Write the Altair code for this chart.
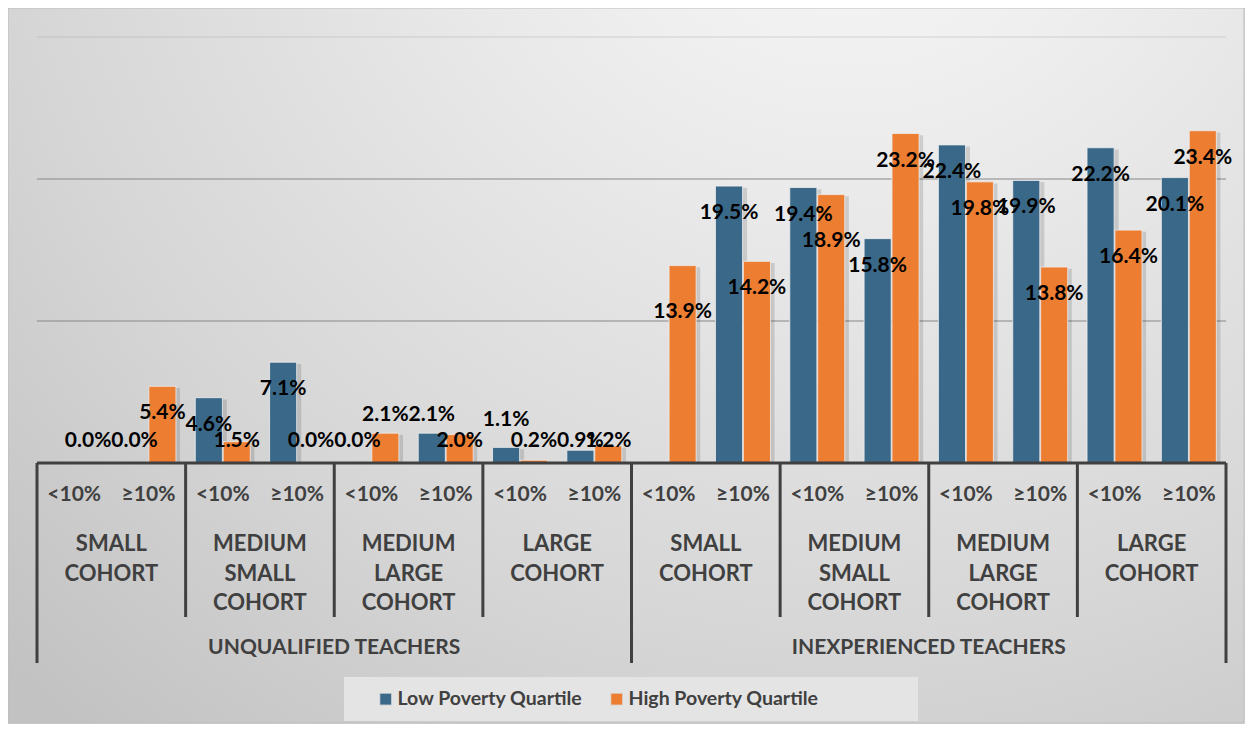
import altair as alt
import pandas as pd

# ---------------- data ----------------
teacher_types = ["UNQUALIFIED TEACHERS", "INEXPERIENCED TEACHERS"]
cohorts = ["SMALL\nCOHORT", "MEDIUM\nSMALL\nCOHORT", "MEDIUM\nLARGE\nCOHORT", "LARGE\nCOHORT"]
levels = ["<10%", "≥10%"]
series_names = ["Low Poverty Quartile", "High Poverty Quartile"]
low_poverty = [None, 0.0, 4.6, 7.1, 0.0, 2.1, 1.1, 0.9,
               None, 19.5, 19.4, 15.8, 22.4, 19.9, 22.2, 20.1]
high_poverty = [0.0, 5.4, 1.5, 0.0, 2.1, 2.0, 0.2, 1.2,
                13.9, 14.2, 18.9, 23.2, 19.8, 13.8, 16.4, 23.4]
grid_values = [10, 20, 30]

# ---------------- tables built from the arrays ----------------
cats, level_rows, cohort_rows, type_rows = [], [], [], []
k = 0
for ti, t in enumerate(teacher_types):
    type_rows.append({"pos": ti * 8 + 4, "label": t})
    for ci, c in enumerate(cohorts):
        cohort_rows.append({"pos": ti * 8 + ci * 2 + 1, "label": c})
        for li, l in enumerate(levels):
            cid = f"{ti}-{ci}-{li}"
            cats.append(cid)
            level_rows.append({"pos": k + 0.5, "label": l})
            k += 1

bar_rows = []
for i, cid in enumerate(cats):
    bar_rows.append({"cat": cid, "idx": i, "s": 0, "series": series_names[0], "value": low_poverty[i]})
    bar_rows.append({"cat": cid, "idx": i, "s": 1, "series": series_names[1], "value": high_poverty[i]})
bars_df = pd.DataFrame(bar_rows)

n = len(cats)
short_bounds = pd.DataFrame({"b": [p for p in range(0, n + 1, 2) if p % 8 != 0]})
long_bounds = pd.DataFrame({"b": [p for p in range(0, n + 1, 8)]})
grid_df = pd.DataFrame({"g": grid_values})

# ---------------- layout ----------------
W, H = 1189, 426
PAD = {"left": 29, "top": 29, "right": 19, "bottom": 261}
FONT = "Lato"
BLUE = "#3a6888"
ORANGE = "#ed7d31"
AXIS_C = "#404040"
P_IN = 0.26

yscale = alt.Scale(domain=[0, 30], nice=False, zero=True)
xband = alt.Scale(paddingInner=P_IN, paddingOuter=P_IN / 2)
xoff = alt.Scale(paddingInner=0.03)
xq = alt.Scale(domain=[0, n], nice=False, zero=False)

gradient = {
    "gradient": "radial",
    "x1": 0.68, "y1": 0.04, "r1": 0.0,
    "x2": 0.68, "y2": 0.04, "r2": 0.98,
    "stops": [
        {"offset": 0.0, "color": "#fbfbfb"},
        {"offset": 0.35, "color": "#e9e9e9"},
        {"offset": 0.7, "color": "#d6d6d6"},
        {"offset": 1.0, "color": "#c2c2c2"},
    ],
}

one = pd.DataFrame({"k": [0]})

background = alt.Chart(one).mark_rect(fill=gradient, stroke="#bdbdbd", strokeWidth=1).encode(
    x=alt.value(-PAD["left"]), x2=alt.value(W + PAD["right"] - 1),
    y=alt.value(-PAD["top"]), y2=alt.value(H + PAD["bottom"] - 1),
)

grid = alt.Chart(grid_df).mark_rule(color="#8c8c8c", strokeWidth=1.5).encode(
    y=alt.Y("g:Q", scale=yscale, axis=None),
    strokeOpacity=alt.condition("datum.g >= 30", alt.value(0.2), alt.value(0.7)),
)

# soft drop shadow to the right of each bar (same data, slightly shifted)
half = (1 - P_IN) / 2
shadow = alt.Chart(bars_df).transform_filter(
    "isValid(datum.value) && datum.value > 0"
).transform_calculate(
    x0=f"datum.idx + 0.5 + (datum.s == 0 ? -{half} : 0) + 0.055",
    x1=f"datum.idx + 0.5 + (datum.s == 0 ? 0 : {half}) + 0.055",
    top="datum.value - 0.12",
    zero="0",
).mark_rect(color="#000000", opacity=0.13).encode(
    x=alt.X("x0:Q", scale=xq, axis=None), x2="x1:Q",
    y=alt.Y("top:Q", scale=yscale, axis=None), y2="zero:Q",
)

color = alt.Color(
    "series:N",
    scale=alt.Scale(domain=series_names, range=[BLUE, ORANGE]),
    legend=alt.Legend(
        title=None, orient="none", direction="horizontal",
        legendX=339, legendY=652,
    ),
)

bars = alt.Chart(bars_df).mark_bar(stroke="#eeeeee", strokeWidth=1, strokeOpacity=0.8).encode(
    x=alt.X("cat:N", sort=cats, scale=xband, axis=None),
    xOffset=alt.XOffset("series:N", sort=series_names, scale=xoff),
    y=alt.Y("value:Q", scale=yscale, axis=None),
    color=color,
).transform_filter("isValid(datum.value)")

labels = alt.Chart(bars_df).transform_filter(
    "isValid(datum.value)"
).transform_joinaggregate(
    vmax="max(value)", vmin="min(value)", groupby=["cat"]
).transform_calculate(
    base_y=("datum.value >= 4 ? datum.value - 1.9 : "
            "(datum.value > 2.05 ? datum.value + 1.3 : "
            "((datum.s == 0 && datum.value >= 1.05) ? datum.value + 1.9 : 1.55))"),
    label_y="(datum.s == 1 && datum.value >= 4 && datum.vmax - datum.vmin < 1) ? datum.base_y - 1.4 : datum.base_y",
    txt="format(datum.value, '.1f') + '%'",
).mark_text(font=FONT, fontWeight="bold", fontSize=21, color="#000000", baseline="middle").encode(
    x=alt.X("cat:N", sort=cats, scale=xband, axis=None),
    xOffset=alt.XOffset("series:N", sort=series_names, scale=xoff),
    y=alt.Y("label_y:Q", scale=yscale, axis=None),
    text="txt:N",
)

baseline = alt.Chart(one).mark_rule(color=AXIS_C, strokeWidth=3).encode(
    y=alt.datum(0, scale=yscale),
)

div_short = alt.Chart(short_bounds).mark_rule(color=AXIS_C, strokeWidth=3).encode(
    x=alt.X("b:Q", scale=xq, axis=None), y=alt.value(H), y2=alt.value(580),
)
div_long = alt.Chart(long_bounds).mark_rule(color=AXIS_C, strokeWidth=3).encode(
    x=alt.X("b:Q", scale=xq, axis=None), y=alt.value(H), y2=alt.value(626),
)

txt_kw = dict(font=FONT, fontWeight="bold", color=AXIS_C, align="center")
level_text = alt.Chart(pd.DataFrame(level_rows)).mark_text(fontSize=21, baseline="middle", **txt_kw).encode(
    x=alt.X("pos:Q", scale=xq, axis=None), y=alt.value(458), text="label:N",
)
cohort_text = alt.Chart(pd.DataFrame(cohort_rows)).mark_text(
    fontSize=22, baseline="alphabetic", lineBreak="\n", lineHeight=29.5, **txt_kw
).encode(
    x=alt.X("pos:Q", scale=xq, axis=None), y=alt.value(514), text="label:N",
)
type_text = alt.Chart(pd.DataFrame(type_rows)).mark_text(fontSize=21, baseline="middle", **txt_kw).encode(
    x=alt.X("pos:Q", scale=xq, axis=None), y=alt.value(611), text="label:N",
)

legend_box = alt.Chart(one).mark_rect(fill="#e4e4e4").encode(
    x=alt.value(307), x2=alt.value(881), y=alt.value(640), y2=alt.value(684),
)

chart = alt.layer(
    background, legend_box, grid, shadow, bars, labels, baseline,
    div_short, div_long, level_text, cohort_text, type_text,
).resolve_scale(
    x="independent"
).properties(
    width=W, height=H,
    autosize=alt.AutoSizeParams(type="none"),
    padding=PAD,
    background="#d6d6d6",
).configure_view(
    stroke=None
).configure_legend(
    labelFont=FONT, labelFontSize=19.5, labelFontWeight="bold", labelColor=AXIS_C,
    labelLimit=400,
    symbolType="square", symbolSize=144, symbolStrokeColor="#dddddd", symbolStrokeWidth=1,
    labelOffset=2, columnPadding=24, padding=0,
)

chart.save("out.html", embed_options={"renderer": "svg", "actions": False})
